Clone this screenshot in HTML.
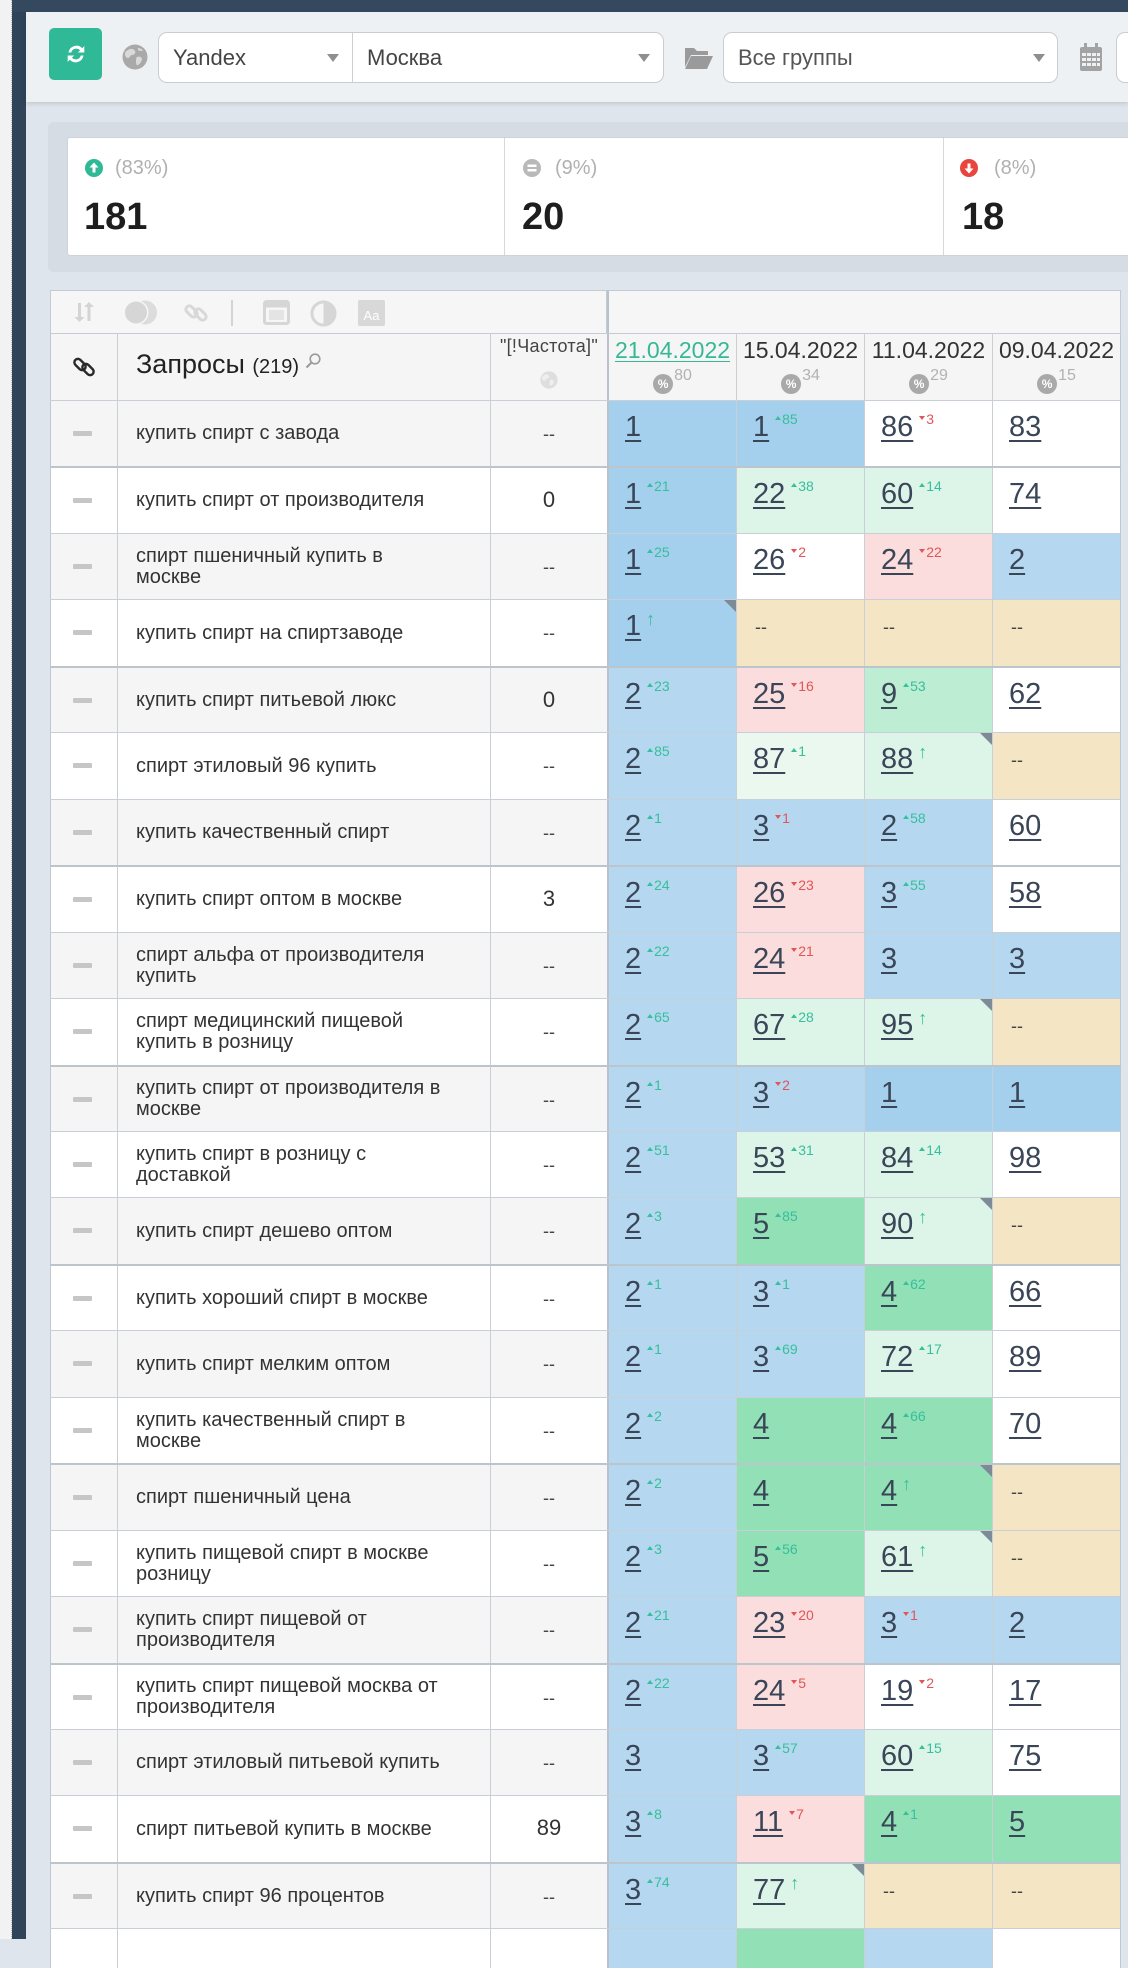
<!DOCTYPE html>
<html><head><meta charset="utf-8">
<style>
*{box-sizing:border-box}
body{margin:0;width:1128px;height:1939px;overflow:hidden;position:relative;background:#dfe5ec;font-family:"Liberation Sans","DejaVu Sans",sans-serif;color:#333}
.a{position:absolute}
.ls{left:0;top:0;width:12px;height:1939px;background:#f2f2f2;border-right:1px dotted #bdbdbd}
.nv{left:12px;top:0;width:14px;height:1939px;background:#2f4459}
.topbar{left:12px;top:0;width:1116px;height:12px;background:#34495e}
.tb{left:26px;top:12px;width:1102px;height:90px;background:#eef1f4;box-shadow:0 2px 4px rgba(0,0,0,.12)}
.btn{left:49px;top:28px;width:53px;height:52px;background:#2fb996;border-radius:5px;display:flex;align-items:center;justify-content:center}
.sel{top:32px;height:51px;background:#fff;border:1px solid #c9cdd1;border-radius:9px;display:flex;align-items:center;font-size:22px;color:#444}
.arr{position:absolute;top:21px;width:0;height:0;border-left:6px solid transparent;border-right:6px solid transparent;border-top:8px solid #8f8f8f}
.sp{left:48px;top:122px;width:1100px;height:150px;background:#d5dce4;border-radius:6px}
.si{left:67px;top:137px;width:1080px;height:119px;background:#fff;border:1px solid #cdd3d9;border-radius:3px}
.vd{top:138px;width:1px;height:117px;background:#d8d8d8}
.pct{font-size:20px;color:#b0b0b0;line-height:20px}
.big{font-size:38px;font-weight:bold;color:#1e1e1e;line-height:38px}
.row{position:absolute;left:50px;width:1071px;border-top:1px solid #c8cfd6}
.row.tk{border-top:2px solid #bcc4cc}
.c{position:absolute;top:0;bottom:0;border-left:1px solid #c8cfd6}
.c0{left:0;width:67px;border-left-color:#bfc7cf}
.c1{left:67px;width:373px;display:flex;align-items:center;padding-left:18px;font-size:20px;line-height:21px;color:#333;white-space:nowrap}
.c2{left:440px;width:117px}
.d0{left:557px;width:129px;border-left:2px solid #b9c2cb}
.d1{left:686px;width:128px}
.d2{left:814px;width:128px}
.d3{left:942px;width:129px;border-right:1px solid #bfc7cf}
.g .c0,.g .c1,.g .c2{background:#f5f5f5}
.w .c0,.w .c1,.w .c2{background:#fff}
.dash{position:absolute;left:22px;top:30px;width:19px;height:5px;background:#c6c6c6;border-radius:1px}
.fq{position:absolute;left:0;right:0;top:20px;text-align:center;font-size:22px;line-height:24px;color:#333}
.fd{position:absolute;left:0;right:0;top:24px;text-align:center;font-size:18px;line-height:18px;color:#444}
.b1{background:#a4cfed}
.b2{background:#b5d8f0}
.wh{background:#fff}
.lg{background:#ddf5e8}
.lg2{background:#ebf8f0}
.gr{background:#91e0b6}
.g2{background:#bdedd2}
.pk{background:#fbdddd}
.tn{background:#f4e6c4}
.n{position:absolute;left:16px;top:12px;font-size:29px;line-height:29px;color:#3a4658;white-space:nowrap}
.n u{text-decoration:underline;text-decoration-thickness:2px;text-underline-offset:4px}
.n i{font-style:normal;font-size:14px;position:relative;top:-12px;margin-left:6px;color:#36bf9c}
.n i.dn{color:#e05656}
.n i.ar{font-size:18px;top:-10px;margin-left:5px}
.up{display:inline-block;width:0;height:0;border-left:3px solid transparent;border-right:3px solid transparent;border-bottom:4px solid #36bf9c;vertical-align:4px;margin-right:1px}
.dw{display:inline-block;width:0;height:0;border-left:3px solid transparent;border-right:3px solid transparent;border-top:4px solid #e05656;vertical-align:4px;margin-right:1px}
.dd{position:absolute;left:18px;top:18px;font-size:18px;line-height:18px;color:#444}
.cr::after{content:"";position:absolute;top:0;right:0;border-top:12px solid #7d8b97;border-left:12px solid transparent}
.hd .c{background:#f5f5f5}
.dt{position:absolute;left:0;right:0;top:5px;text-align:center;font-size:23px;line-height:23px;color:#333;white-space:nowrap}
.pc{position:absolute;top:34px;left:0;right:0;display:flex;justify-content:center;align-items:flex-start}
.pi{width:20px;height:20px;border-radius:50%;background:#a9a9a9;margin-top:6px;color:#fff;font-size:12px;font-weight:bold;text-align:center;line-height:20px}
.pn{font-size:16px;line-height:16px;color:#b2b2b2;margin-left:1px}
</style></head><body>
<div class="a ls"></div>
<div class="a nv"></div>
<div class="a topbar"></div>
<div class="a tb"></div>
<div class="a btn"><svg width="24" height="24" viewBox="0 0 24 24"><path d="M4.5 10.5A8 8 0 0 1 18.2 6.2L20.3 4v6.5h-6.5l2.3-2.3A5.3 5.3 0 0 0 7.2 10.5z M19.5 13.5A8 8 0 0 1 5.8 17.8L3.7 20v-6.5h6.5l-2.3 2.3a5.3 5.3 0 0 0 8.9-2.3z" fill="#fff"/></svg></div>
<svg class="a" style="left:122px;top:44px" width="26" height="26" viewBox="0 0 26 26"><circle cx="13" cy="13" r="12.5" fill="#a9a9a9"/><path d="M6 6c3-2 6-1 7 1s-1 4-3 4-2 3-4 3-3-2-3-4 1-3 3-4z M15 13c2-1 5 0 5 2s-2 5-4 6-2-2-2-4 0-3 1-4z M16 4c2 0 4 1 5 3-2 0-4 0-5-1z" fill="#d9d9d9"/></svg>
<div class="a sel" style="left:158px;width:506px"><span style="position:absolute;left:14px">Yandex</span><div class="arr" style="left:168px"></div><div style="position:absolute;left:193px;top:0;bottom:0;width:1px;background:#cfcfcf"></div><span style="position:absolute;left:208px">Москва</span><div class="arr" style="left:479px"></div></div>
<svg class="a" style="left:684px;top:45px" width="30" height="25" viewBox="0 0 30 25"><path d="M1 3h9l3 3h11v4H7L1 22z" fill="#9a9a9a"/><path d="M7 11h22l-6 13H1z" fill="#9a9a9a"/></svg>
<div class="a sel" style="left:723px;width:335px;color:#555"><span style="position:absolute;left:14px">Все группы</span><div class="arr" style="left:309px"></div></div>
<svg class="a" style="left:1080px;top:43px" width="22" height="28" viewBox="0 0 22 28"><rect x="0" y="4" width="22" height="24" rx="2" fill="#a3a3a3"/><rect x="4" y="0" width="3" height="7" fill="#a3a3a3"/><rect x="15" y="0" width="3" height="7" fill="#a3a3a3"/><g fill="#eef1f4"><rect x="2" y="10" width="4" height="3"/><rect x="7" y="10" width="4" height="3"/><rect x="12" y="10" width="4" height="3"/><rect x="17" y="10" width="3" height="3"/><rect x="2" y="15" width="4" height="3"/><rect x="7" y="15" width="4" height="3"/><rect x="12" y="15" width="4" height="3"/><rect x="17" y="15" width="3" height="3"/><rect x="2" y="20" width="4" height="3"/><rect x="7" y="20" width="4" height="3"/><rect x="12" y="20" width="4" height="3"/><rect x="17" y="20" width="3" height="3"/></g></svg>
<div class="a sel" style="left:1116px;width:40px"></div>

<div class="a sp"></div>
<div class="a si"></div>
<div class="a vd" style="left:504px"></div>
<div class="a vd" style="left:943px"></div>
<svg class="a" style="left:85px;top:159px" width="18" height="18" viewBox="0 0 18 18"><circle cx="9" cy="9" r="9" fill="#2fb996"/><path d="M9 3.5l4.5 5h-3v5h-3v-5h-3z" fill="#fff"/></svg>
<div class="a pct" style="left:115px;top:158px">(83%)</div>
<div class="a big" style="left:84px;top:198px">181</div>
<svg class="a" style="left:523px;top:159px" width="18" height="18" viewBox="0 0 18 18"><circle cx="9" cy="9" r="9" fill="#b9b9b9"/><rect x="4.5" y="5.5" width="9" height="2.5" fill="#fff"/><rect x="4.5" y="10" width="9" height="2.5" fill="#fff"/></svg>
<div class="a pct" style="left:555px;top:158px">(9%)</div>
<div class="a big" style="left:522px;top:198px">20</div>
<svg class="a" style="left:960px;top:159px" width="18" height="18" viewBox="0 0 18 18"><circle cx="9" cy="9" r="9" fill="#e8453c"/><path d="M9 14.5l4.5-5h-3v-5h-3v5h-3z" fill="#fff"/></svg>
<div class="a pct" style="left:994px;top:158px">(8%)</div>
<div class="a big" style="left:962px;top:198px">18</div>

<!-- table toolbar -->
<div class="a" style="left:50px;top:290px;width:557px;height:44px;background:#f6f6f6;border:1px solid #c4cbd2;border-bottom:none"></div>
<div class="a" style="left:607px;top:290px;width:514px;height:44px;background:#f6f6f6;border:1px solid #c4cbd2;border-left:2px solid #b9c2cb;border-bottom:none"></div>
<svg class="a" style="left:72px;top:300px" width="24" height="24" viewBox="0 0 24 24"><path d="M6 3v14H2.5L7.5 22l5-5H9V3z M17 2l-5 5h3.5v14h3V7H22z" fill="#d4d4d4"/></svg>
<svg class="a" style="left:123px;top:300px" width="36" height="25" viewBox="0 0 36 25"><circle cx="22" cy="12.5" r="12" fill="#dcdcdc"/><circle cx="13" cy="12.5" r="12.5" fill="#f6f6f6"/><circle cx="13" cy="12.5" r="11" fill="#d6d6d6"/></svg>
<svg class="a" style="left:183px;top:300px" width="26" height="26" viewBox="0 0 26 26"><g fill="none" stroke="#d8d8d8" stroke-width="3"><rect x="2" y="8" width="13" height="7" rx="3.5" transform="rotate(45 8.5 11.5)"/><rect x="11" y="11" width="13" height="7" rx="3.5" transform="rotate(45 17.5 14.5)"/></g></svg>
<div class="a" style="left:231px;top:300px;width:2px;height:26px;background:#d4d4d4"></div>
<svg class="a" style="left:263px;top:300px" width="27" height="25" viewBox="0 0 27 25"><rect x="1.5" y="1.5" width="24" height="22" rx="2" fill="none" stroke="#d6d6d6" stroke-width="3"/><rect x="1.5" y="1.5" width="24" height="6" fill="#d6d6d6"/><rect x="6" y="10" width="15" height="10" fill="#e4e4e4"/></svg>
<svg class="a" style="left:310px;top:300px" width="27" height="27" viewBox="0 0 27 27"><circle cx="13.5" cy="13.5" r="11.5" fill="none" stroke="#d6d6d6" stroke-width="3"/><path d="M13.5 2a11.5 11.5 0 0 1 0 23z" fill="#d6d6d6"/></svg>
<div class="a" style="left:358px;top:300px;width:27px;height:26px;background:#d8d8d8;border-radius:2px;color:#fff;font-size:13px;line-height:32px;text-align:center">Aa</div>

<!-- header row -->
<div class="row hd" style="top:333px;height:67px;border-top-color:#c4cbd2">
 <div class="c c0" style="display:flex;align-items:center;justify-content:center"><svg width="24" height="24" viewBox="0 0 24 24"><g fill="none" stroke="#2a2a2a" stroke-width="2.4"><rect x="1.5" y="6" width="13" height="7" rx="3.5" transform="rotate(45 8 9.5)"/><rect x="9.5" y="11" width="13" height="7" rx="3.5" transform="rotate(45 16 14.5)"/></g></svg></div>
 <div class="c c1" style="padding-bottom:2px"><span style="font-size:27px;color:#222">Запросы <span style="font-size:20px">(219)</span></span><svg style="margin-left:6px;margin-top:-10px" width="16" height="16" viewBox="0 0 16 16"><circle cx="10" cy="6" r="4.8" fill="none" stroke="#9a9a9a" stroke-width="1.6"/><path d="M6.5 9.5L1.5 14.5" stroke="#9a9a9a" stroke-width="2"/></svg></div>
 <div class="c c2"><div style="position:absolute;left:0;right:0;top:2px;text-align:center;font-size:18px;line-height:20px;color:#444;white-space:nowrap;letter-spacing:.3px">"[!Частота]"</div><svg style="position:absolute;left:49px;top:37px" width="18" height="18" viewBox="0 0 26 26"><circle cx="13" cy="13" r="12.5" fill="#dedede"/><path d="M6 6c3-2 6-1 7 1s-1 4-3 4-2 3-4 3-3-2-3-4 1-3 3-4z M15 13c2-1 5 0 5 2s-2 5-4 6-2-2-2-4 0-3 1-4z" fill="#efefef"/></svg></div>
 <div class="c d0"><div class="dt" style="color:#36b896;text-decoration:underline;text-decoration-thickness:1px;text-underline-offset:3px">21.04.2022</div><div class="pc"><span class="pi">%</span><span class="pn">80</span></div></div>
 <div class="c d1"><div class="dt">15.04.2022</div><div class="pc"><span class="pi">%</span><span class="pn">34</span></div></div>
 <div class="c d2"><div class="dt">11.04.2022</div><div class="pc"><span class="pi">%</span><span class="pn">29</span></div></div>
 <div class="c d3"><div class="dt">09.04.2022</div><div class="pc"><span class="pi">%</span><span class="pn">15</span></div></div>
</div>

<!-- rows -->
<div class="row g" style="top:400px;height:66px">
 <div class="c c0"><b class="dash"></b></div><div class="c c1">купить спирт с завода</div><div class="c c2"><span class="fd">--</span></div>
 <div class="c d0 b1"><span class="n"><u>1</u></span></div>
 <div class="c d1 b1"><span class="n"><u>1</u><i><b class="up"></b>85</i></span></div>
 <div class="c d2 wh"><span class="n"><u>86</u><i class="dn"><b class="dw"></b>3</i></span></div>
 <div class="c d3 wh"><span class="n"><u>83</u></span></div>
</div>
<div class="row w tk" style="top:466px;height:67px">
 <div class="c c0"><b class="dash"></b></div><div class="c c1">купить спирт от производителя</div><div class="c c2"><span class="fq">0</span></div>
 <div class="c d0 b1"><span class="n"><u>1</u><i><b class="up"></b>21</i></span></div>
 <div class="c d1 lg"><span class="n"><u>22</u><i><b class="up"></b>38</i></span></div>
 <div class="c d2 lg"><span class="n"><u>60</u><i><b class="up"></b>14</i></span></div>
 <div class="c d3 wh"><span class="n"><u>74</u></span></div>
</div>
<div class="row g" style="top:533px;height:66px">
 <div class="c c0"><b class="dash"></b></div><div class="c c1">спирт пшеничный купить в<br>москве</div><div class="c c2"><span class="fd">--</span></div>
 <div class="c d0 b1"><span class="n"><u>1</u><i><b class="up"></b>25</i></span></div>
 <div class="c d1 wh"><span class="n"><u>26</u><i class="dn"><b class="dw"></b>2</i></span></div>
 <div class="c d2 pk"><span class="n"><u>24</u><i class="dn"><b class="dw"></b>22</i></span></div>
 <div class="c d3 b2"><span class="n"><u>2</u></span></div>
</div>
<div class="row w" style="top:599px;height:67px">
 <div class="c c0"><b class="dash"></b></div><div class="c c1">купить спирт на спиртзаводе</div><div class="c c2"><span class="fd">--</span></div>
 <div class="c d0 b1 cr"><span class="n"><u>1</u><i class="ar">↑</i></span></div>
 <div class="c d1 tn"><span class="dd">--</span></div>
 <div class="c d2 tn"><span class="dd">--</span></div>
 <div class="c d3 tn"><span class="dd">--</span></div>
</div>
<div class="row g tk" style="top:666px;height:66px">
 <div class="c c0"><b class="dash"></b></div><div class="c c1">купить спирт питьевой люкс</div><div class="c c2"><span class="fq">0</span></div>
 <div class="c d0 b2"><span class="n"><u>2</u><i><b class="up"></b>23</i></span></div>
 <div class="c d1 pk"><span class="n"><u>25</u><i class="dn"><b class="dw"></b>16</i></span></div>
 <div class="c d2 g2"><span class="n"><u>9</u><i><b class="up"></b>53</i></span></div>
 <div class="c d3 wh"><span class="n"><u>62</u></span></div>
</div>
<div class="row w" style="top:732px;height:67px">
 <div class="c c0"><b class="dash"></b></div><div class="c c1">спирт этиловый 96 купить</div><div class="c c2"><span class="fd">--</span></div>
 <div class="c d0 b2"><span class="n"><u>2</u><i><b class="up"></b>85</i></span></div>
 <div class="c d1 lg2"><span class="n"><u>87</u><i><b class="up"></b>1</i></span></div>
 <div class="c d2 lg cr"><span class="n"><u>88</u><i class="ar">↑</i></span></div>
 <div class="c d3 tn"><span class="dd">--</span></div>
</div>
<div class="row g" style="top:799px;height:66px">
 <div class="c c0"><b class="dash"></b></div><div class="c c1">купить качественный спирт</div><div class="c c2"><span class="fd">--</span></div>
 <div class="c d0 b2"><span class="n"><u>2</u><i><b class="up"></b>1</i></span></div>
 <div class="c d1 b2"><span class="n"><u>3</u><i class="dn"><b class="dw"></b>1</i></span></div>
 <div class="c d2 b2"><span class="n"><u>2</u><i><b class="up"></b>58</i></span></div>
 <div class="c d3 wh"><span class="n"><u>60</u></span></div>
</div>
<div class="row w tk" style="top:865px;height:67px">
 <div class="c c0"><b class="dash"></b></div><div class="c c1">купить спирт оптом в москве</div><div class="c c2"><span class="fq">3</span></div>
 <div class="c d0 b2"><span class="n"><u>2</u><i><b class="up"></b>24</i></span></div>
 <div class="c d1 pk"><span class="n"><u>26</u><i class="dn"><b class="dw"></b>23</i></span></div>
 <div class="c d2 b2"><span class="n"><u>3</u><i><b class="up"></b>55</i></span></div>
 <div class="c d3 wh"><span class="n"><u>58</u></span></div>
</div>
<div class="row g" style="top:932px;height:66px">
 <div class="c c0"><b class="dash"></b></div><div class="c c1">спирт альфа от производителя<br>купить</div><div class="c c2"><span class="fd">--</span></div>
 <div class="c d0 b2"><span class="n"><u>2</u><i><b class="up"></b>22</i></span></div>
 <div class="c d1 pk"><span class="n"><u>24</u><i class="dn"><b class="dw"></b>21</i></span></div>
 <div class="c d2 b2"><span class="n"><u>3</u></span></div>
 <div class="c d3 b2"><span class="n"><u>3</u></span></div>
</div>
<div class="row w" style="top:998px;height:67px">
 <div class="c c0"><b class="dash"></b></div><div class="c c1">спирт медицинский пищевой<br>купить в розницу</div><div class="c c2"><span class="fd">--</span></div>
 <div class="c d0 b2"><span class="n"><u>2</u><i><b class="up"></b>65</i></span></div>
 <div class="c d1 lg"><span class="n"><u>67</u><i><b class="up"></b>28</i></span></div>
 <div class="c d2 lg cr"><span class="n"><u>95</u><i class="ar">↑</i></span></div>
 <div class="c d3 tn"><span class="dd">--</span></div>
</div>
<div class="row g tk" style="top:1065px;height:66px">
 <div class="c c0"><b class="dash"></b></div><div class="c c1">купить спирт от производителя в<br>москве</div><div class="c c2"><span class="fd">--</span></div>
 <div class="c d0 b2"><span class="n"><u>2</u><i><b class="up"></b>1</i></span></div>
 <div class="c d1 b2"><span class="n"><u>3</u><i class="dn"><b class="dw"></b>2</i></span></div>
 <div class="c d2 b1"><span class="n"><u>1</u></span></div>
 <div class="c d3 b1"><span class="n"><u>1</u></span></div>
</div>
<div class="row w" style="top:1131px;height:66px">
 <div class="c c0"><b class="dash"></b></div><div class="c c1">купить спирт в розницу с<br>доставкой</div><div class="c c2"><span class="fd">--</span></div>
 <div class="c d0 b2"><span class="n"><u>2</u><i><b class="up"></b>51</i></span></div>
 <div class="c d1 lg"><span class="n"><u>53</u><i><b class="up"></b>31</i></span></div>
 <div class="c d2 lg"><span class="n"><u>84</u><i><b class="up"></b>14</i></span></div>
 <div class="c d3 wh"><span class="n"><u>98</u></span></div>
</div>
<div class="row g" style="top:1197px;height:67px">
 <div class="c c0"><b class="dash"></b></div><div class="c c1">купить спирт дешево оптом</div><div class="c c2"><span class="fd">--</span></div>
 <div class="c d0 b2"><span class="n"><u>2</u><i><b class="up"></b>3</i></span></div>
 <div class="c d1 gr"><span class="n"><u>5</u><i><b class="up"></b>85</i></span></div>
 <div class="c d2 lg cr"><span class="n"><u>90</u><i class="ar">↑</i></span></div>
 <div class="c d3 tn"><span class="dd">--</span></div>
</div>
<div class="row w tk" style="top:1264px;height:66px">
 <div class="c c0"><b class="dash"></b></div><div class="c c1">купить хороший спирт в москве</div><div class="c c2"><span class="fd">--</span></div>
 <div class="c d0 b2"><span class="n"><u>2</u><i><b class="up"></b>1</i></span></div>
 <div class="c d1 b2"><span class="n"><u>3</u><i><b class="up"></b>1</i></span></div>
 <div class="c d2 gr"><span class="n"><u>4</u><i><b class="up"></b>62</i></span></div>
 <div class="c d3 wh"><span class="n"><u>66</u></span></div>
</div>
<div class="row g" style="top:1330px;height:67px">
 <div class="c c0"><b class="dash"></b></div><div class="c c1">купить спирт мелким оптом</div><div class="c c2"><span class="fd">--</span></div>
 <div class="c d0 b2"><span class="n"><u>2</u><i><b class="up"></b>1</i></span></div>
 <div class="c d1 b2"><span class="n"><u>3</u><i><b class="up"></b>69</i></span></div>
 <div class="c d2 lg"><span class="n"><u>72</u><i><b class="up"></b>17</i></span></div>
 <div class="c d3 wh"><span class="n"><u>89</u></span></div>
</div>
<div class="row w" style="top:1397px;height:66px">
 <div class="c c0"><b class="dash"></b></div><div class="c c1">купить качественный спирт в<br>москве</div><div class="c c2"><span class="fd">--</span></div>
 <div class="c d0 b2"><span class="n"><u>2</u><i><b class="up"></b>2</i></span></div>
 <div class="c d1 gr"><span class="n"><u>4</u></span></div>
 <div class="c d2 gr"><span class="n"><u>4</u><i><b class="up"></b>66</i></span></div>
 <div class="c d3 wh"><span class="n"><u>70</u></span></div>
</div>
<div class="row g tk" style="top:1463px;height:67px">
 <div class="c c0"><b class="dash"></b></div><div class="c c1">спирт пшеничный цена</div><div class="c c2"><span class="fd">--</span></div>
 <div class="c d0 b2"><span class="n"><u>2</u><i><b class="up"></b>2</i></span></div>
 <div class="c d1 gr"><span class="n"><u>4</u></span></div>
 <div class="c d2 gr cr"><span class="n"><u>4</u><i class="ar">↑</i></span></div>
 <div class="c d3 tn"><span class="dd">--</span></div>
</div>
<div class="row w" style="top:1530px;height:66px">
 <div class="c c0"><b class="dash"></b></div><div class="c c1">купить пищевой спирт в москве<br>розницу</div><div class="c c2"><span class="fd">--</span></div>
 <div class="c d0 b2"><span class="n"><u>2</u><i><b class="up"></b>3</i></span></div>
 <div class="c d1 gr"><span class="n"><u>5</u><i><b class="up"></b>56</i></span></div>
 <div class="c d2 lg cr"><span class="n"><u>61</u><i class="ar">↑</i></span></div>
 <div class="c d3 tn"><span class="dd">--</span></div>
</div>
<div class="row g" style="top:1596px;height:67px">
 <div class="c c0"><b class="dash"></b></div><div class="c c1">купить спирт пищевой от<br>производителя</div><div class="c c2"><span class="fd">--</span></div>
 <div class="c d0 b2"><span class="n"><u>2</u><i><b class="up"></b>21</i></span></div>
 <div class="c d1 pk"><span class="n"><u>23</u><i class="dn"><b class="dw"></b>20</i></span></div>
 <div class="c d2 b2"><span class="n"><u>3</u><i class="dn"><b class="dw"></b>1</i></span></div>
 <div class="c d3 b2"><span class="n"><u>2</u></span></div>
</div>
<div class="row w tk" style="top:1663px;height:66px">
 <div class="c c0"><b class="dash"></b></div><div class="c c1">купить спирт пищевой москва от<br>производителя</div><div class="c c2"><span class="fd">--</span></div>
 <div class="c d0 b2"><span class="n"><u>2</u><i><b class="up"></b>22</i></span></div>
 <div class="c d1 pk"><span class="n"><u>24</u><i class="dn"><b class="dw"></b>5</i></span></div>
 <div class="c d2 wh"><span class="n"><u>19</u><i class="dn"><b class="dw"></b>2</i></span></div>
 <div class="c d3 wh"><span class="n"><u>17</u></span></div>
</div>
<div class="row g" style="top:1729px;height:66px">
 <div class="c c0"><b class="dash"></b></div><div class="c c1">спирт этиловый питьевой купить</div><div class="c c2"><span class="fd">--</span></div>
 <div class="c d0 b2"><span class="n"><u>3</u></span></div>
 <div class="c d1 b2"><span class="n"><u>3</u><i><b class="up"></b>57</i></span></div>
 <div class="c d2 lg"><span class="n"><u>60</u><i><b class="up"></b>15</i></span></div>
 <div class="c d3 wh"><span class="n"><u>75</u></span></div>
</div>
<div class="row w" style="top:1795px;height:67px">
 <div class="c c0"><b class="dash"></b></div><div class="c c1">спирт питьевой купить в москве</div><div class="c c2"><span class="fq">89</span></div>
 <div class="c d0 b2"><span class="n"><u>3</u><i><b class="up"></b>8</i></span></div>
 <div class="c d1 pk"><span class="n"><u>11</u><i class="dn"><b class="dw"></b>7</i></span></div>
 <div class="c d2 gr"><span class="n"><u>4</u><i><b class="up"></b>1</i></span></div>
 <div class="c d3 gr"><span class="n"><u>5</u></span></div>
</div>
<div class="row g tk" style="top:1862px;height:66px">
 <div class="c c0"><b class="dash"></b></div><div class="c c1">купить спирт 96 процентов</div><div class="c c2"><span class="fd">--</span></div>
 <div class="c d0 b2"><span class="n"><u>3</u><i><b class="up"></b>74</i></span></div>
 <div class="c d1 lg cr"><span class="n"><u>77</u><i class="ar">↑</i></span></div>
 <div class="c d2 tn"><span class="dd">--</span></div>
 <div class="c d3 tn"><span class="dd">--</span></div>
</div>
<div class="row w" style="top:1928px;height:40px">
 <div class="c c0"></div><div class="c c1"></div><div class="c c2"></div>
 <div class="c d0 b2"></div>
 <div class="c d1 gr"></div>
 <div class="c d2 b2"></div>
 <div class="c d3 wh"></div>
</div>
</body></html>
